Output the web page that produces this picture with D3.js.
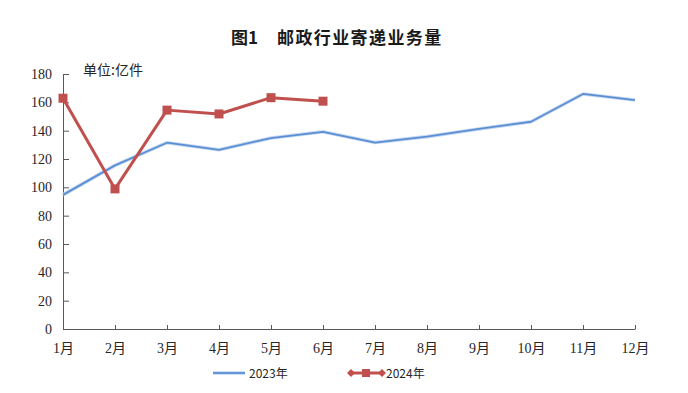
<!DOCTYPE html>
<html>
<head>
<meta charset="utf-8">
<script src="https://cdn.jsdelivr.net/npm/d3@7"></script>
<style>
  body { margin: 0; background: #fff; }
</style>
</head>
<body>
<div class="line-chart"></div>
<script>
const months = ['1月', '2月', '3月', '4月', '5月', '6月', '7月', '8月', '9月', '10月', '11月', '12月'];
const vals2023 = [94.7, 115.5, 131.5, 126.5, 134.8, 139.2, 131.6, 135.8, 141.2, 146.3, 165.9, 161.6];
const vals2024 = [162.9, 98.9, 154.5, 151.8, 163.3, 160.8];
const yTicks = [0, 20, 40, 60, 80, 100, 120, 140, 160, 180];

const blue = '#5B8FD4',
      red = '#C0504D';

const serif = '"Liberation Serif", "Noto Sans CJK SC", serif',
      sans = '"Noto Sans CJK SC", sans-serif';

const width = 688,
      height = 393;

const x = d3.scalePoint()
            .domain(months)
            .range([63, 635]);

const y = d3.scaleLinear()
            .domain([0, 180])
            .range([329, 74]);

const svg = d3.select('.line-chart')
              .append('svg')
              .attr('width', width)
              .attr('height', height);

// title
svg.append('text')
   .attr('x', 231)
   .attr('y', 44)
   .attr('font-family', sans)
   .attr('font-size', 17)
   .attr('font-weight', 'bold')
   .attr('fill', '#1a1a1a')
   .text('图1');

svg.append('text')
   .attr('x', 277)
   .attr('y', 44)
   .attr('font-family', sans)
   .attr('font-size', 17)
   .attr('font-weight', 'bold')
   .attr('letter-spacing', 1.4)
   .attr('fill', '#1a1a1a')
   .text('邮政行业寄递业务量');

svg.append('text')
   .attr('x', 83)
   .attr('y', 75)
   .attr('font-family', sans)
   .attr('font-size', 14)
   .attr('fill', '#262626')
   .text('单位:亿件');

// y axis
const yAxis = d3.axisLeft(y).tickValues(yTicks).tickSizeInner(-6).tickSizeOuter(0).tickPadding(11);
const gy = svg.append('g')
              .attr('transform', 'translate(63,0)')
              .call(yAxis);
gy.select('.domain').attr('stroke', '#595959');
gy.selectAll('.tick line').attr('stroke', '#595959');
gy.selectAll('.tick text')
  .attr('font-size', 14)
  .attr('font-family', serif)
  .attr('fill', '#262626');

// x axis
const xAxis = d3.axisBottom(x).tickSizeInner(-4).tickSizeOuter(0).tickPadding(14);
const gx = svg.append('g')
              .attr('transform', 'translate(0,329)')
              .call(xAxis);
gx.select('.domain').attr('stroke', '#595959');
gx.selectAll('.tick line').attr('stroke', '#595959');
gx.selectAll('.tick text')
  .attr('font-size', 14)
  .attr('font-family', serif)
  .attr('fill', '#262626');

const line = d3.line()
               .x((d, i) => x(months[i]))
               .y(d => y(d));

// 2023 line with soft glow
svg.append('path')
   .datum(vals2023)
   .attr('d', line)
   .attr('fill', 'none')
   .attr('stroke', '#c6d8f0')
   .attr('stroke-width', 3.6)
   .attr('stroke-linejoin', 'round');

svg.append('path')
   .datum(vals2023)
   .attr('d', line)
   .attr('fill', 'none')
   .attr('stroke', blue)
   .attr('stroke-width', 1.8)
   .attr('stroke-linejoin', 'round');

// 2024 line
svg.append('path')
   .datum(vals2024)
   .attr('d', line)
   .attr('fill', 'none')
   .attr('stroke', red)
   .attr('stroke-width', 3)
   .attr('stroke-linejoin', 'round');

svg.selectAll('rect.m24')
   .data(vals2024)
   .enter()
   .append('rect')
   .attr('class', 'm24')
   .attr('x', (d, i) => x(months[i]) - 4.5)
   .attr('y', d => y(d) - 4.5)
   .attr('width', 9)
   .attr('height', 9)
   .attr('fill', red);

// legend
const lg = svg.append('g');
lg.append('line')
  .attr('x1', 213).attr('y1', 373).attr('x2', 245).attr('y2', 373)
  .attr('stroke', '#c6d8f0').attr('stroke-width', 3.6);
lg.append('line')
  .attr('x1', 213).attr('y1', 373).attr('x2', 245).attr('y2', 373)
  .attr('stroke', blue).attr('stroke-width', 1.8);
lg.append('text')
  .attr('x', 249).attr('y', 378)
  .attr('font-family', sans)
  .attr('font-size', 12)
  .attr('fill', '#262626')
  .text('2023年');

lg.append('line')
  .attr('x1', 351).attr('y1', 373).attr('x2', 382).attr('y2', 373)
  .attr('stroke', red).attr('stroke-width', 3);
lg.selectAll('path.dia')
  .data([351, 382])
  .enter()
  .append('path')
  .attr('class', 'dia')
  .attr('d', d => `M${d},369L${d + 4},373L${d},377L${d - 4},373Z`)
  .attr('fill', red);
lg.append('rect')
  .attr('x', 362).attr('y', 369).attr('width', 8).attr('height', 8)
  .attr('fill', red);
lg.append('text')
  .attr('x', 386).attr('y', 378)
  .attr('font-family', sans)
  .attr('font-size', 12)
  .attr('fill', '#262626')
  .text('2024年');
</script>
</body>
</html>
